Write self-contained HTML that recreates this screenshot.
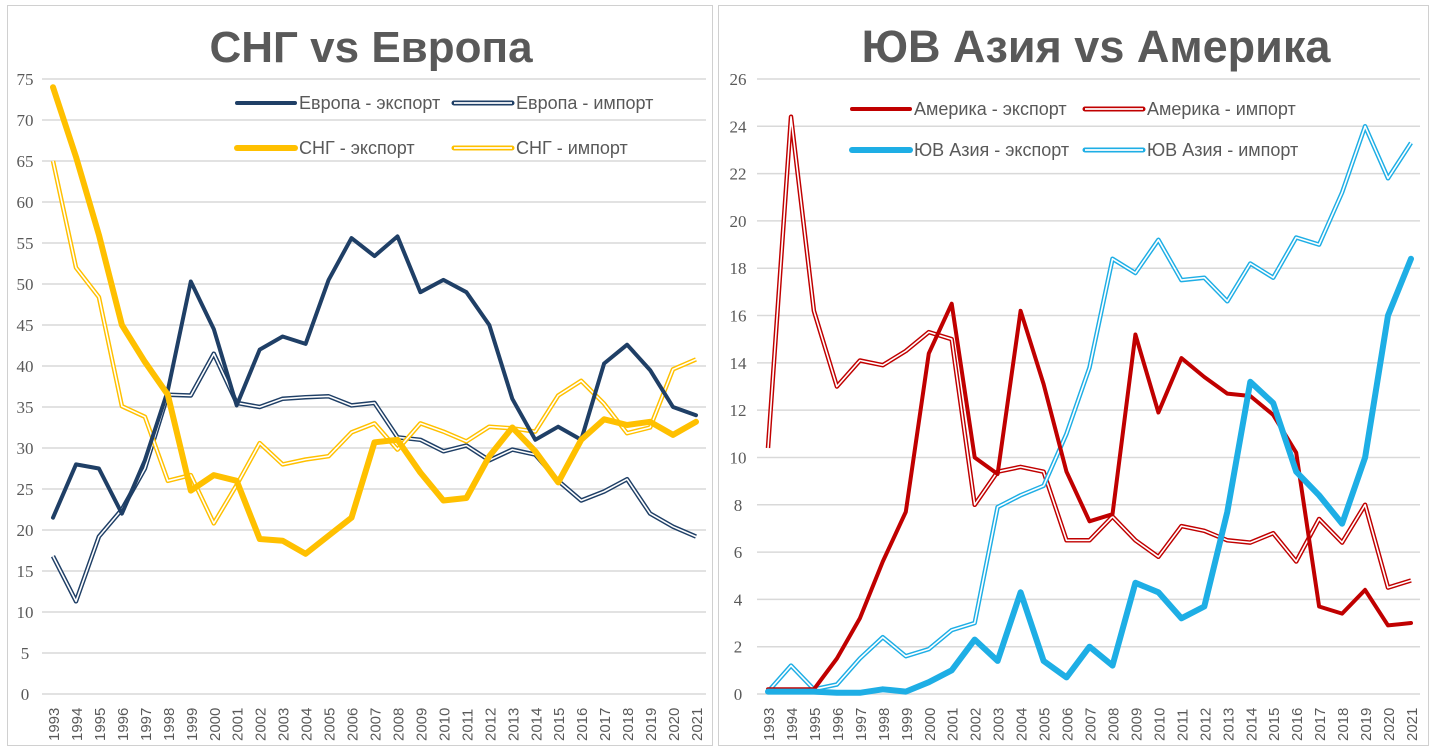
<!DOCTYPE html>
<html><head><meta charset="utf-8">
<style>
html,body{margin:0;padding:0;background:#fff;width:1432px;height:750px;overflow:hidden}
svg{display:block}
text{font-family:"Liberation Sans",sans-serif}
</style></head><body>
<svg id="s" width="1432" height="750" xmlns="http://www.w3.org/2000/svg"></svg>
<script>
const S=document.getElementById('s');let h='';
h+='<rect x="7.5" y="5.5" width="705" height="740" fill="none" stroke="#d0d0d0"/>';
h+='<rect x="718.5" y="5.5" width="710" height="740" fill="none" stroke="#d0d0d0"/>';
h+='<text x="371" y="62" text-anchor="middle" font-size="44" font-weight="bold" fill="#595959">СНГ vs Европа</text>';
h+='<text x="1096" y="62" text-anchor="middle" font-size="45" font-weight="bold" fill="#595959">ЮВ Азия vs Америка</text>';
function chart(x0,x1,gl,gr,max,step,series,lab){
  const y0=694,yt=79;const Y=v=>y0-(v/max)*(y0-yt);const X=i=>x0+i*(x1-x0)/28;
  for(let v=0;v<=max;v+=step){const y=Y(v);
    h+=`<line x1="${gl}" x2="${gr}" y1="${y}" y2="${y}" stroke="#d9d9d9" stroke-width="1.5"/>`;
    h+=`<text x="${lab}" y="${y+6}" text-anchor="middle" font-size="17" fill="#595959" style="font-family:'Liberation Serif',serif">${v}</text>`;}
  for(let i=0;i<29;i++){h+=`<text transform="translate(${X(i)+6},741) rotate(-90)" font-size="15" fill="#595959">${1993+i}</text>`;}
  for(const s of series){const p=s.d.map((v,i)=>X(i).toFixed(1)+','+Y(v).toFixed(1)).join(' ');
    if(s.hollow){h+=`<polyline points="${p}" fill="none" stroke="${s.c}" stroke-width="4.5" stroke-linejoin="round"/><polyline points="${p}" fill="none" stroke="#fff" stroke-width="1.6" stroke-linejoin="round"/>`;}
    else h+=`<polyline points="${p}" fill="none" stroke="${s.c}" stroke-width="${s.w}" stroke-linejoin="round" stroke-linecap="round"/>`;}
}
function leg(x,y,c,w,hollow,t){
  if(hollow){h+=`<line x1="${x}" x2="${x+58}" y1="${y}" y2="${y}" stroke="${c}" stroke-width="5" stroke-linecap="round"/><line x1="${x}" x2="${x+58}" y1="${y}" y2="${y}" stroke="#fff" stroke-width="1.8"/>`;}
  else h+=`<line x1="${x}" x2="${x+58}" y1="${y}" y2="${y}" stroke="${c}" stroke-width="${w}" stroke-linecap="round"/>`;
  h+=`<text x="${x+62}" y="${y+6}" font-size="18" fill="#595959">${t}</text>`;}
const EB='#1f3f66',YE='#ffc000',RE='#c00000',CY='#1eaee5';
chart(53,696,42,706,75,5,[
 {c:EB,hollow:1,d:[16.8,11.3,19.2,22.5,27.5,36.5,36.4,41.5,35.5,35,36,36.2,36.3,35.2,35.5,31.3,31,29.6,30.3,28.5,29.8,29.2,26,23.6,24.7,26.2,22,20.4,19.2]},
 {c:YE,hollow:1,d:[65,52,48.4,35.1,33.8,26,26.7,20.8,25.5,30.6,28,28.6,29,31.9,33,29.8,33,32,30.8,32.6,32.4,32,36.4,38.2,35.4,31.8,32.5,39.6,40.8]},
 {c:EB,w:4,d:[21.5,28,27.5,22,28.5,37,50.3,44.5,35.2,42,43.6,42.7,50.5,55.6,53.4,55.8,49,50.5,49,45,36,31,32.6,31,40.3,42.6,39.5,35,34]},
 {c:YE,w:6,d:[74,65.5,56,45,40.5,36.5,24.8,26.7,26,18.9,18.7,17.1,19.3,21.5,30.7,31,27,23.6,23.9,29,32.5,29.6,25.8,31,33.5,32.8,33.2,31.6,33.2]}
],25);
chart(768,1411,757,1420,26,2,[
 {c:RE,hollow:1,d:[10.4,24.4,16.2,13,14.1,13.9,14.5,15.3,15,8,9.4,9.6,9.4,6.5,6.5,7.5,6.5,5.8,7.1,6.9,6.5,6.4,6.8,5.6,7.4,6.4,8,4.5,4.8]},
 {c:CY,hollow:1,d:[0.1,1.2,0.2,0.4,1.5,2.4,1.6,1.9,2.7,3,7.9,8.4,8.8,11,13.8,18.4,17.8,19.2,17.5,17.6,16.6,18.2,17.6,19.3,19,21.2,24,21.8,23.3]},
 {c:RE,w:4,d:[0.2,0.2,0.2,1.5,3.2,5.6,7.7,14.4,16.5,10,9.3,16.2,13.1,9.4,7.3,7.6,15.2,11.9,14.2,13.4,12.7,12.6,11.8,10.2,3.7,3.4,4.4,2.9,3.0]},
 {c:CY,w:6,d:[0.1,0.1,0.1,0.05,0.05,0.2,0.1,0.5,1,2.3,1.4,4.3,1.4,0.7,2,1.2,4.7,4.3,3.2,3.7,7.7,13.2,12.3,9.4,8.4,7.2,10,16,18.4]}
],738);
leg(237,103,EB,4,0,'Европа - экспорт');leg(454,103,EB,4,1,'Европа - импорт');
leg(237,148,YE,6,0,'СНГ - экспорт');leg(454,148,YE,6,1,'СНГ - импорт');
leg(852,109,RE,4,0,'Америка - экспорт');leg(1085,109,RE,4,1,'Америка - импорт');
leg(852,150,CY,6,0,'ЮВ Азия - экспорт');leg(1085,150,CY,6,1,'ЮВ Азия - импорт');
S.innerHTML=h;
</script>
</body></html>
